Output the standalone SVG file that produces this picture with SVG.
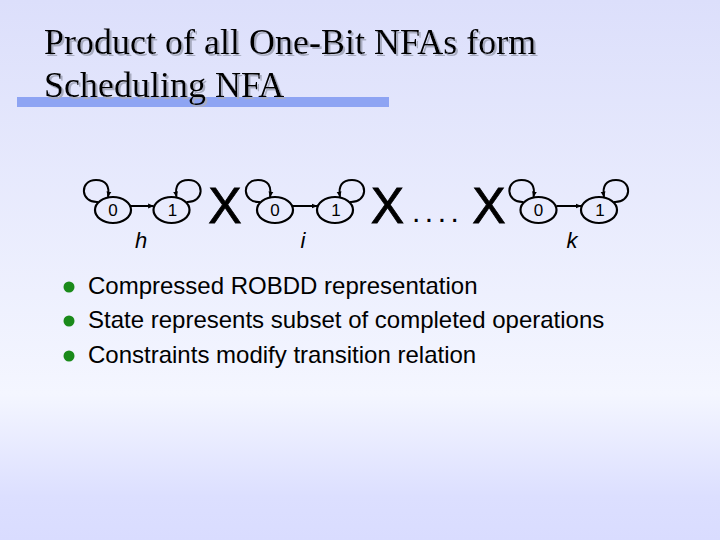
<svg xmlns="http://www.w3.org/2000/svg" width="720" height="540" viewBox="0 0 720 540">
<defs>
<linearGradient id="bg" x1="0" y1="0" x2="0" y2="1">
<stop offset="0" stop-color="#dcdffb"/>
<stop offset="0.73" stop-color="#f4f6ff"/>
<stop offset="0.92" stop-color="#dcdfff"/>
<stop offset="1" stop-color="#d9dcff"/>
</linearGradient>
<filter id="shd" x="-5%" y="-20%" width="110%" height="150%">
<feOffset in="SourceAlpha" dx="2" dy="2" result="o"/>
<feFlood flood-color="#a8acc0" result="c"/>
<feComposite in="c" in2="o" operator="in" result="s"/>
<feMerge><feMergeNode in="s"/><feMergeNode in="SourceGraphic"/></feMerge>
</filter>
<marker id="ah" viewBox="0 0 10 10" refX="9" refY="5" markerWidth="6" markerHeight="6" orient="auto" markerUnits="userSpaceOnUse">
<path d="M0,1 L10,5 L0,9 Z" fill="#000"/>
</marker>
<style>
.st{fill:none;stroke:#000;stroke-width:2.2}
.lbl{font-family:"Liberation Sans",Arial,sans-serif;font-size:17px;text-anchor:middle;fill:#000}
.var{font-family:"Liberation Sans",Arial,sans-serif;font-size:22px;font-style:italic;text-anchor:middle;fill:#000}
.cross{font-family:"Liberation Sans",Arial,sans-serif;font-size:50px;text-anchor:middle;fill:#000;stroke:#000;stroke-width:0.8}
.title{font-family:"Liberation Serif","Times New Roman",serif;font-size:36px;fill:#000}
.bul{font-family:"Liberation Sans",Arial,sans-serif;font-size:24px;fill:#000}
.edge{fill:none;stroke:#000;stroke-width:2;marker-end:url(#ah)}
</style>
</defs>
<rect width="720" height="540" fill="url(#bg)"/>
<g id="title">
<rect x="17" y="97" width="372" height="10" fill="#8ea4f3"/>
<g filter="url(#shd)">
<text class="title" x="44" y="54">Product of all One-Bit NFAs form</text>
<text class="title" x="44" y="97">Scheduling NFA</text>
</g>
</g>
<g id="h0"><ellipse class="st" cx="113" cy="210" rx="18" ry="13"/><text class="lbl" x="113" y="216">0</text></g>
<g id="h1"><ellipse class="st" cx="171.5" cy="210" rx="18" ry="13"/><text class="lbl" x="172.5" y="216">1</text></g>
<g id="i0"><ellipse class="st" cx="275" cy="210" rx="18" ry="13"/><text class="lbl" x="275" y="216">0</text></g>
<g id="i1"><ellipse class="st" cx="335" cy="210" rx="18" ry="13"/><text class="lbl" x="336" y="216">1</text></g>
<g id="k0"><ellipse class="st" cx="538.5" cy="210" rx="18" ry="13"/><text class="lbl" x="538.5" y="216">0</text></g>
<g id="k1"><ellipse class="st" cx="599" cy="210" rx="18" ry="13"/><text class="lbl" x="600" y="216">1</text></g>
<g id="connectors">
<path class="edge" d="M131,206 L153.5,206"/>
<path class="edge" d="M293,206 L317,206"/>
<path class="edge" d="M556.5,206 L581,206"/>
<path class="edge" d="M98,202 C80,203 79,180 96,180 C106,180 110,186 108,197"/>
<path class="edge" d="M186.5,202 C204.5,203 205.5,180 188.5,180 C178.5,180 174.5,186 176.5,197"/>
<path class="edge" d="M260,202 C242,203 241,180 258,180 C268,180 272,186 270,197"/>
<path class="edge" d="M350,202 C368,203 369,180 352,180 C342,180 338,186 340,197"/>
<path class="edge" d="M523.5,202 C505.5,203 504.5,180 521.5,180 C531.5,180 535.5,186 533.5,197"/>
<path class="edge" d="M614,202 C632,203 633,180 616,180 C606,180 602,186 604,197"/>
</g>
<g id="product">
<text class="cross" x="225" y="223">X</text>
<text class="cross" x="387.5" y="223">X</text>
<text class="cross" x="489" y="223">X</text>
<text x="412" y="222" font-family="'Liberation Sans',Arial,sans-serif" font-size="30" letter-spacing="4.5">....</text>
</g>
<g id="labels">
<text class="var" x="141" y="248">h</text>
<text class="var" x="303" y="248">i</text>
<text class="var" x="572" y="248">k</text>
</g>
<g id="bullets">
<circle cx="69" cy="287" r="5.5" fill="#1a8a1a"/>
<circle cx="69" cy="321" r="5.5" fill="#1a8a1a"/>
<circle cx="69" cy="356" r="5.5" fill="#1a8a1a"/>
<text class="bul" x="88" y="294">Compressed ROBDD representation</text>
<text class="bul" x="88" y="328">State represents subset of completed operations</text>
<text class="bul" x="88" y="363">Constraints modify transition relation</text>
</g>
</svg>
